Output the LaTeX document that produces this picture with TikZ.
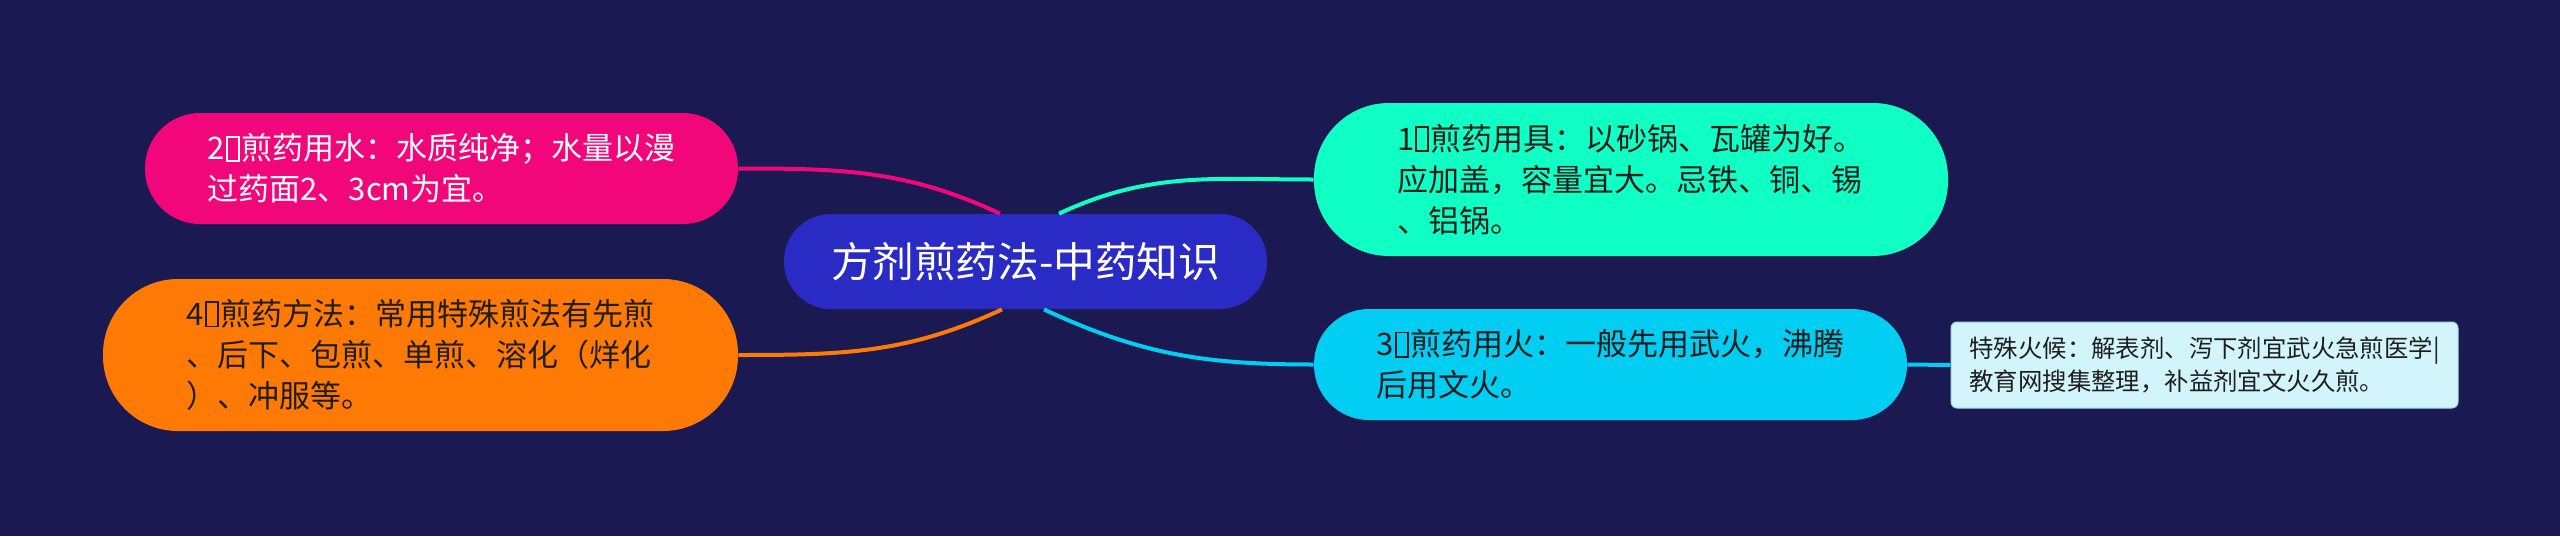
\documentclass[tikz,border=0pt]{standalone}
\usepackage{fontspec}
\setmainfont{Noto Sans CJK SC}
\definecolor{bgc}{HTML}{1B1951}
\definecolor{centerc}{HTML}{2A2AC4}
\definecolor{pinkc}{HTML}{F2077B}
\definecolor{orangec}{HTML}{FF7A05}
\definecolor{aquac}{HTML}{10FFC4}
\definecolor{cyanc}{HTML}{02CDF2}
\definecolor{leafc}{HTML}{D2F5FC}
\definecolor{leafborder}{HTML}{9ED8E6}
\definecolor{darktext}{HTML}{1E1E1E}
\newcommand\tofubox{{\setlength\fboxsep{0pt}\setlength\fboxrule{0.06em}\kern0.03em\fbox{\phantom{\rule{0.33em}{0.72em}}}\kern0.05em}}
\begin{document}
\begin{tikzpicture}[x=0.5pt,y=-0.5pt,
  topic/.style={align=left, inner sep=0pt, font=\fontsize{15.5pt}{20.5pt}\selectfont},
  conn/.style={line width=2pt},
]
\fill[bgc] (0,0) rectangle (2560,536);
\useasboundingbox (0,0) rectangle (2560,536);

\node[fill=centerc, text=white, rounded corners=23.5pt, minimum width=241.5pt, minimum height=47.5pt,
      inner sep=0pt, font=\fontsize{20.8pt}{24pt}\selectfont] (c) at (1025.5,261.5) {方剂煎药法-中药知识};

\node[topic, fill=pinkc, text=white, rounded corners=27.5pt, minimum width=296.5pt, minimum height=55.5pt]
  (n2) at (441.5,168.5) {2\tofubox 煎药用水：水质纯净；水量以漫\\过药面2、3cm为宜。};

\node[topic, fill=orangec, text=darktext, rounded corners=37.5pt, minimum width=317.5pt, minimum height=76pt]
  (n4) at (420.5,355) {4\tofubox 煎药方法：常用特殊煎法有先煎\\、后下、包煎、单煎、溶化（烊化\\）、冲服等。};

\node[topic, fill=aquac, text=darktext, rounded corners=37.5pt, minimum width=317pt, minimum height=76.5pt]
  (n1) at (1631,179.5) {1\tofubox 煎药用具：以砂锅、瓦罐为好。\\应加盖，容量宜大。忌铁、铜、锡\\、铝锅。};

\node[topic, fill=cyanc, text=darktext, rounded corners=27.5pt, minimum width=296.5pt, minimum height=55.5pt]
  (n3) at (1610.5,364.5) {3\tofubox 煎药用火：一般先用武火，沸腾\\后用文火。};

\node[align=left, fill=leafc, draw=leafborder, line width=0.5pt, text=darktext, rounded corners=3pt,
      minimum width=253.5pt, minimum height=43pt, inner sep=0pt, font=\fontsize{12.2pt}{16.5pt}\selectfont]
  (n5) at (2204.5,365) {特殊火候：解表剂、泻下剂宜武火急煎医学|\\教育网搜集整理，补益剂宜文火久煎。};

\draw[conn, pinkc] (n2.east) to[out=0, in=155] ([xshift=-12.75pt]c.north);
\draw[conn, orangec] (n4.east) to[out=0, in=205] ([xshift=-11.75pt]c.south);
\draw[conn, aquac] ([xshift=16.75pt]c.north) to[out=25, in=180] (n1.west);
\draw[conn, cyanc] ([xshift=9.25pt]c.south) to[out=-25, in=180] (n3.west);
\draw[conn, cyanc] (n3.east) -- (n5.west);
\end{tikzpicture}
\end{document}
